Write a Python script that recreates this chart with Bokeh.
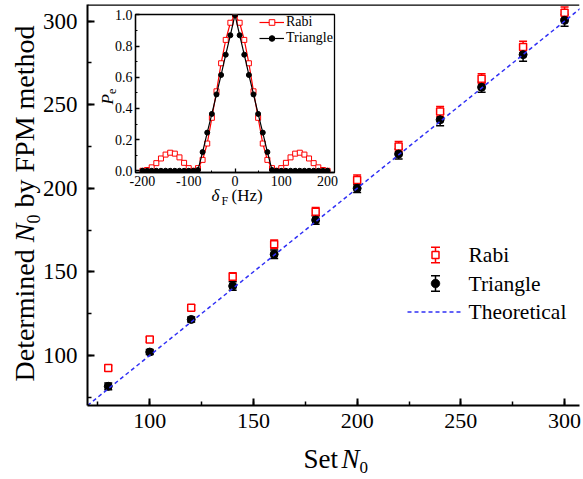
import math
from bokeh.plotting import figure
from bokeh.models import (ColumnDataSource, Whisker, TeeHead, Label, BoxAnnotation,
                          PolyAnnotation, Arrow, Legend, LegendItem, SingleIntervalTicker,
                          Range1d, Span, PrintfTickFormatter)
from bokeh.layouts import column
from bokeh.embed import file_html
from bokeh.resources import INLINE

# ---------------- data ----------------
set_n0 = [80, 100, 120, 140, 160, 180, 200, 220, 240, 260, 280, 300]
rabi_n0 = [92.5, 109.5, 128.5, 147, 166.5, 186, 205, 225, 246, 265.5, 284.5, 305]
rabi_err = [1.5, 1.5, 1.5, 2.5, 2.5, 2.5, 3, 3, 3, 3, 3.5, 3.5]
tri_n0 = [81.5, 102, 121.5, 141.5, 160.5, 181, 200, 220.5, 241, 260.5, 280, 300.5]
tri_err = [2, 1.5, 1.5, 2.5, 2.5, 2.5, 2.5, 3, 3.5, 3, 4, 3.5]
theory_x = [70, 310]
theory_y = [70, 310]

delta_hz = [-200, -190, -180, -170, -160, -150, -140, -130, -120, -110, -100,
            -90, -80, -70, -60, -50, -40, -30, -20, -10, 0,
            10, 20, 30, 40, 50, 60, 70, 80, 90, 100,
            110, 120, 130, 140, 150, 160, 170, 180, 190, 200]
rabi_pe = [0.0, 0.005, 0.022, 0.049, 0.079, 0.104, 0.116, 0.110, 0.086, 0.051, 0.017,
           0.0, 0.017, 0.07, 0.175, 0.34, 0.51, 0.69, 0.84, 0.95, 1.0,
           0.95, 0.84, 0.69, 0.51, 0.34, 0.175, 0.07, 0.017, 0.0, 0.017,
           0.051, 0.086, 0.110, 0.116, 0.104, 0.079, 0.049, 0.022, 0.005, 0.0]
tri_pe = [0.0, 0.0, 0.0, 0.0, 0.0, 0.0, 0.0, 0.0, 0.0, 0.0, 0.0,
          0.0, 0.005, 0.12, 0.245, 0.365, 0.49, 0.615, 0.745, 0.87, 1.0,
          0.87, 0.745, 0.615, 0.49, 0.365, 0.245, 0.12, 0.005, 0.0, 0.0,
          0.0, 0.0, 0.0, 0.0, 0.0, 0.0, 0.0, 0.0, 0.0, 0.0]

legend_labels = ["Rabi", "Triangle", "Theoretical"]

FONT = "Liberation Serif"
RED = "#ff0000"
BLUE = "#2f2ff5"
W, H = 583, 479
BL, BR = 87, 4        # shared left / right borders (column aligns frames)
BASE_FIX = 0.3        # Bokeh places the alphabetic baseline ~0.3em lower than the anchor

# ---------------- main figure ----------------
FL, FB = BL, 405      # frame left / bottom on the page
p = figure(width=W, height=H, x_range=Range1d(70, 307.2), y_range=Range1d(70, 310),
           output_backend="svg", toolbar_location=None,
           min_border_left=BL, min_border_right=BR, min_border_top=4, min_border_bottom=H - FB)
p.grid.visible = False
p.outline_line_color = None
p.background_fill_color = "white"
p.border_fill_color = "white"

for ax in (p.xaxis[0], p.yaxis[0]):
    ax.ticker = SingleIntervalTicker(interval=50, num_minor_ticks=2)
    ax.axis_line_width = 2
    ax.axis_line_color = "black"
    ax.major_tick_line_width = 2
    ax.minor_tick_line_width = 1.5
    ax.major_tick_in = 7
    ax.major_tick_out = 0
    ax.minor_tick_in = 4
    ax.minor_tick_out = 0
    ax.major_label_text_font = FONT
    ax.major_label_text_color = "black"
p.xaxis.major_label_text_font_size = "22px"
p.yaxis.major_label_text_font_size = "23px"
p.xaxis.major_label_standoff = 8
p.yaxis.major_label_standoff = 10

p.add_layout(Span(location=310, dimension="width", line_color="black", line_width=2.5))

src_r = ColumnDataSource(dict(x=set_n0, y=rabi_n0,
                              lo=[v - e for v, e in zip(rabi_n0, rabi_err)],
                              hi=[v + e for v, e in zip(rabi_n0, rabi_err)]))
src_t = ColumnDataSource(dict(x=set_n0, y=tri_n0,
                              lo=[v - e for v, e in zip(tri_n0, tri_err)],
                              hi=[v + e for v, e in zip(tri_n0, tri_err)]))

for src, col in ((src_r, RED), (src_t, "black")):
    p.add_layout(Whisker(source=src, base="x", upper="hi", lower="lo", level="underlay",
                         line_color=col, line_width=1.5,
                         upper_head=TeeHead(size=8, line_color=col, line_width=1.5),
                         lower_head=TeeHead(size=8, line_color=col, line_width=1.5)))

p.scatter("x", "y", source=src_r, marker="square", size=7, fill_color="white",
          line_color=RED, line_width=1.5)
p.scatter("x", "y", source=src_t, marker="circle", size=8, fill_color="black",
          line_color="black")
p.line(theory_x, theory_y, line_color=BLUE, line_width=1.5, line_dash="4 3")


def mlab(text, X, Y, size, italic=False, angle=0.0, baseline="alphabetic", fx=FL, fy=FB):
    if baseline == "alphabetic":
        if angle:
            X -= BASE_FIX * size
        else:
            Y -= BASE_FIX * size
    return Label(x=X - fx, y=fy - Y, x_units="screen", y_units="screen", text=text,
                 angle=angle, text_align="left", text_baseline=baseline,
                 text_font=FONT, text_font_size=f"{size}px",
                 text_font_style="italic" if italic else "normal", text_color="black")


def mbox(x0, y0, x1, y1, fill, line=None, lw=0):
    return BoxAnnotation(left=x0 - FL, right=x1 - FL, top=FB - y0, bottom=FB - y1,
                         left_units="screen", right_units="screen",
                         top_units="screen", bottom_units="screen",
                         fill_color=fill, fill_alpha=1.0,
                         line_color=line, line_alpha=1.0, line_width=lw)


# manual legend (inside the main frame)
rows = [254.5, 283, 311.5]
SX = 435
for lab_text, ry in zip(legend_labels, rows):
    p.add_layout(mlab(lab_text, 468, ry, 21.5, baseline="middle"))
for ry, col in ((rows[0], RED), (rows[1], "black")):
    p.add_layout(mbox(SX - 0.75, ry - 8, SX + 0.75, ry + 8, col))
    p.add_layout(mbox(SX - 4.5, ry - 8.5, SX + 4.5, ry - 7, col))
    p.add_layout(mbox(SX - 4.5, ry + 7, SX + 4.5, ry + 8.5, col))
p.add_layout(mbox(SX - 3.5, rows[0] - 3.5, SX + 3.5, rows[0] + 3.5, "white", RED, 1.5))
circ_x = [SX + 4.2 * math.cos(2 * math.pi * k / 24) - FL for k in range(24)]
circ_y = [FB - (rows[1] + 4.2 * math.sin(2 * math.pi * k / 24)) for k in range(24)]
p.add_layout(PolyAnnotation(xs=circ_x, ys=circ_y, xs_units="screen", ys_units="screen",
                            fill_color="black", fill_alpha=1.0, line_color="black",
                            line_alpha=1.0))
p.add_layout(Arrow(x_start=407 - FL, y_start=FB - rows[2], x_end=460 - FL, y_end=FB - rows[2],
                   start_units="screen", end_units="screen", end=None,
                   line_color=BLUE, line_width=1.5, line_dash="4 3"))

# ---------------- inset ----------------
IL, IT, IR, IB = 135, 14, 334, 172   # inset frame on the page
CY, CH = 5, 205
CX = IL - BL
ins = figure(width=IR + BR - CX, height=CH, x_range=Range1d(-215, 215),
             y_range=Range1d(-0.011, 1.003),
             output_backend="svg", toolbar_location=None,
             min_border_left=BL, min_border_right=BR,
             min_border_top=IT - CY, min_border_bottom=CY + CH - IB)
ins.grid.visible = False
ins.background_fill_color = None
ins.border_fill_color = None
ins.outline_line_color = "black"
ins.outline_line_width = 1.3
ins.xaxis.ticker = SingleIntervalTicker(interval=100, num_minor_ticks=2)
ins.xaxis.formatter = PrintfTickFormatter(format="%d")
ins.yaxis.ticker = SingleIntervalTicker(interval=0.2, num_minor_ticks=2)
ins.yaxis.formatter = PrintfTickFormatter(format="%.1f")
for ax in (ins.xaxis[0], ins.yaxis[0]):
    ax.axis_line_width = 1.3
    ax.major_tick_line_width = 1.3
    ax.minor_tick_line_width = 1
    ax.major_tick_in = 4
    ax.major_tick_out = 0
    ax.minor_tick_in = 2
    ax.minor_tick_out = 0
    ax.major_label_text_font = FONT
    ax.major_label_text_font_size = "14px"
    ax.major_label_text_color = "black"
    ax.major_label_standoff = 3

r_line = ins.line(delta_hz, rabi_pe, line_color=RED, line_width=1.2)
r_pts = ins.scatter(delta_hz, rabi_pe, marker="square", size=5, fill_color="white",
                    line_color=RED, line_width=1)
t_line = ins.line(delta_hz, tri_pe, line_color="black", line_width=1.2)
t_pts = ins.scatter(delta_hz, tri_pe, marker="circle", size=5, fill_color="black",
                    line_color="black")

leg = Legend(items=[LegendItem(label=legend_labels[0], renderers=[r_line, r_pts]),
                    LegendItem(label=legend_labels[1], renderers=[t_line, t_pts])],
             location=(259 - IL, IB - 46), orientation="vertical",
             label_text_font=FONT, label_text_font_size="14px", label_text_color="black",
             label_height=14, glyph_height=14, glyph_width=25, label_standoff=2,
             spacing=0, padding=0, margin=0, border_line_color=None,
             background_fill_alpha=0)
ins.add_layout(leg)
ins.margin = (CY - H, 0, 0, CX)

# ---------------- transparent text overlay (frame = whole page) ----------------
tf = figure(width=W + BL, height=H, x_range=Range1d(0, W - BR), y_range=Range1d(0, H),
            output_backend="svg", toolbar_location=None,
            x_axis_location=None, y_axis_location=None,
            min_border_left=BL, min_border_right=BR, min_border_top=0, min_border_bottom=0)
tf.grid.visible = False
tf.background_fill_color = None
tf.border_fill_color = None
tf.outline_line_color = None
tf.margin = (-(CY + CH), 0, 0, -BL)

R = math.pi / 2
for lbl in (mlab("Determined", 32, 381, 28, angle=R, fx=0, fy=H),
            mlab("N", 32, 241.8, 28, italic=True, angle=R, fx=0, fy=H),
            mlab("0", 38, 223.1, 18, angle=R, fx=0, fy=H),
            mlab("by FPM method", 32, 207, 28, angle=R, fx=0, fy=H),
            mlab("Set", 303, 467, 27, fx=0, fy=H),
            mlab("N", 341, 467, 27, italic=True, fx=0, fy=H),
            mlab("0", 359, 472.5, 17, fx=0, fy=H),
            mlab("\u03b4", 211, 200.5, 17, italic=True, fx=0, fy=H),
            mlab("F", 221, 204, 12, fx=0, fy=H),
            mlab("(Hz)", 231, 200.5, 17, fx=0, fy=H),
            mlab("P", 112, 104, 17, italic=True, angle=R, fx=0, fy=H),
            mlab("e", 115.5, 93.6, 12, angle=R, fx=0, fy=H)):
    tf.add_layout(lbl)

layout = column(p, ins, tf)
open("out.html", "w").write(file_html(layout, INLINE))
